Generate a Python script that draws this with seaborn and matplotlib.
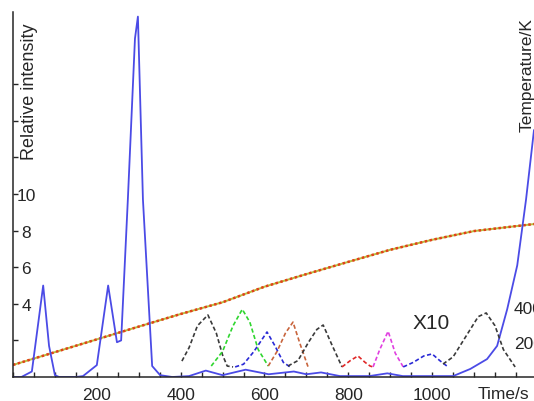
import matplotlib
matplotlib.use("Agg")
import matplotlib.pyplot as plt
import matplotlib.transforms as mtransforms
import numpy as np
import pandas as pd
import seaborn as sns

# Espectro principal (intensidad relativa)
t_main = [0, 20, 45, 72, 86, 100, 110, 150, 167, 200, 227, 248, 258, 274, 291, 298,
          310, 332, 351, 380, 420, 460, 500, 555, 610, 670, 700, 735, 780, 850, 893,
          930, 1000, 1050, 1091, 1131, 1155, 1179, 1203, 1224, 1243]
i_main = [0, 0, 0.3, 5.0, 1.7, 0.1, 0, 0, 0.05, 0.65, 5.0, 1.9, 2.0, 9.7, 18.5, 19.7,
          9.7, 0.6, 0.1, 0, 0.05, 0.35, 0.1, 0.4, 0.15, 0.3, 0.15, 0.25, 0.05, 0.05, 0.2,
          0.05, 0.05, 0.05, 0.44, 0.98, 1.7, 3.7, 6.1, 9.7, 13.5]

# Temperatura (eje derecho)
t_temp = [0, 100, 200, 300, 400, 500, 600, 700, 800, 900, 1000, 1100, 1200, 1243]
temp_k = [69, 142, 215, 288, 360, 427, 516, 588, 658, 727, 784, 834, 862, 874]

# Curvas ampliadas x10 (t, intensidad, color)
x10_black1_t = [403, 420, 440, 465, 485, 500, 511, 525]
x10_black1_i = [0.87, 1.6, 2.8, 3.39, 2.4, 1.2, 0.6, 0.55]
x10_green_t = [473, 500, 525, 547, 565, 585, 609]
x10_green_i = [0.6, 1.4, 2.8, 3.7, 3.0, 1.5, 0.6]
x10_blue1_t = [530, 550, 575, 606, 625, 645, 661]
x10_blue1_i = [0.55, 0.7, 1.4, 2.46, 1.7, 0.8, 0.55]
x10_brown_t = [609, 630, 650, 668, 685, 704]
x10_brown_i = [0.6, 1.4, 2.4, 3.0, 1.8, 0.55]
x10_black2_t = [656, 680, 705, 725, 740, 760, 785]
x10_black2_i = [0.6, 0.9, 1.9, 2.6, 2.84, 1.8, 0.55]
x10_red_t = [785, 805, 823, 840, 852, 859]
x10_red_i = [0.55, 0.9, 1.15, 0.8, 0.6, 0.55]
x10_pink_t = [859, 875, 895, 912, 931]
x10_pink_i = [0.55, 1.5, 2.5, 1.3, 0.55]
x10_blue2_t = [931, 955, 980, 1000, 1018, 1038]
x10_blue2_i = [0.55, 0.8, 1.15, 1.26, 0.9, 0.55]
x10_black3_t = [1026, 1050, 1080, 1110, 1129, 1150, 1170, 1198]
x10_black3_i = [0.71, 1.1, 2.2, 3.3, 3.5, 2.8, 1.5, 0.55]

x10_curves = [
    (x10_black1_t, x10_black1_i, "#3a3a3a"),
    (x10_green_t, x10_green_i, "#2fd62f"),
    (x10_blue1_t, x10_blue1_i, "#2a2ad6"),
    (x10_brown_t, x10_brown_i, "#c8643c"),
    (x10_black2_t, x10_black2_i, "#3a3a3a"),
    (x10_red_t, x10_red_i, "#e02828"),
    (x10_pink_t, x10_pink_i, "#e040e0"),
    (x10_blue2_t, x10_blue2_i, "#2a2ad6"),
    (x10_black3_t, x10_black3_i, "#3a3a3a"),
]

xtick_vals = list(range(0, 1250, 50))
xtick_labels = [str(v) if v in (200, 400, 600, 800, 1000) else "" for v in xtick_vals]
ytick_vals = [2, 4, 6, 8, 10, 12, 14, 16]
ytick_labels = ["", "4", "6", "8", "10", "", "", ""]
temp_tick_vals = [200, 400]
temp_tick_labels = ["200", "400"]

sns.set_style("ticks")
plt.rcParams['font.family'] = ['Liberation Sans', 'DejaVu Sans']

fig = plt.figure(figsize=(5.34, 4.02), dpi=100)
ax = fig.add_axes([13 / 534, 24 / 402, 521 / 534, 365 / 402])
ax2 = ax.twinx()

# Temperatura: linea fina amarillo-verdosa con puntos rojos encima
df_temp = pd.DataFrame({'t': t_temp, 'T': temp_k})
sns.lineplot(data=df_temp, x='t', y='T', ax=ax2, color='#b8c040', lw=1.4)
sns.lineplot(data=df_temp, x='t', y='T', ax=ax2, color='#e2401a', lw=1.8, ls=(0, (1, 1)))

df_main = pd.DataFrame({'t': t_main, 'I': i_main})
sns.lineplot(data=df_main, x='t', y='I', ax=ax, color='#4b4be6', lw=1.3,
             sort=False, estimator=None)

for tt, ii, col in x10_curves:
    sns.lineplot(x=tt, y=ii, ax=ax, color=col, lw=1.2, ls=(0, (2.5, 1.5)),
                 sort=False, estimator=None)

ax.set_zorder(ax2.get_zorder() + 1)
ax.patch.set_visible(False)

ax.set_xlim(0, 1243)
ax.set_ylim(0, 19.95)
ax2.set_ylim(0, 365 * 200 / 35)

ax.set_xticks(xtick_vals)
ax.set_xticklabels(xtick_labels, fontsize=12.5)
ax.set_yticks(ytick_vals)
ax.set_yticklabels(ytick_labels, fontsize=12.5)
ax.tick_params(axis='x', direction='in', length=3.5, width=1, pad=7)
ax.tick_params(axis='y', direction='in', length=3.5, width=1, pad=-9.4)
for lab in ax.get_yticklabels():
    lab.set_horizontalalignment('center')

ax2.set_yticks(temp_tick_vals)
ax2.set_yticklabels(temp_tick_labels, fontsize=12.5)
ax2.tick_params(axis='y', length=0, pad=-14.4)
for lab in ax2.get_yticklabels():
    lab.set_horizontalalignment('left')

for s in ['top', 'right']:
    ax.spines[s].set_visible(False)
for s in ax2.spines.values():
    s.set_visible(False)
ax.spines['left'].set_linewidth(1.1)
ax.spines['bottom'].set_linewidth(1.1)

ax.set_xlabel('')
ax.set_ylabel('')
ax2.set_ylabel('')

ax.text(0.031, 0.784, 'Relative intensity', transform=ax.transAxes, rotation=90,
        ha='center', va='center', fontsize=13)
ax.text(0.9866, 0.83, 'Temperature/K', transform=ax.transAxes, rotation=90,
        ha='center', va='center', fontsize=12.5)
trans = mtransforms.blended_transform_factory(ax.transData, ax.transAxes)
ax.text(1169, -0.044, 'Time/s', transform=trans, ha='center', va='center', fontsize=12.5)
ax.text(998, 3.0, 'X10', ha='center', va='center', fontsize=15)

fig.savefig('out.png', dpi=100)
